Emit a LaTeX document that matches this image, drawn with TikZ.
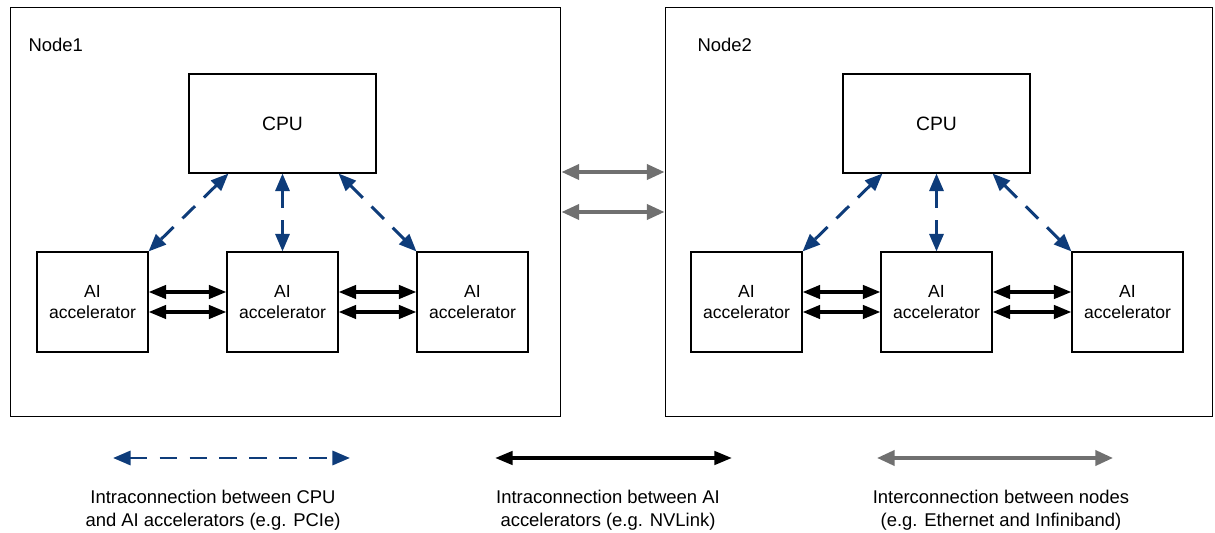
\documentclass[tikz,border=0pt]{standalone}
\usepackage{fontspec}
\setmainfont{Liberation Sans}
\usetikzlibrary{arrows.meta}
\definecolor{pciblue}{RGB}{14,60,122}
\definecolor{netgray}{RGB}{112,112,112}

\begin{document}
\begin{tikzpicture}
            [x=0.02cm, y=-0.02cm, line width=0.6pt,
             box/.style={shape=rectangle, draw=black, align=center, font=\fontsize{10}{12}\selectfont},
             pcie/.style={pciblue, line width=1.7pt, dash pattern=on 10pt off 7pt, {Triangle[length=10pt,width=8pt]}-{Triangle[length=10pt,width=8pt]}},
             nvlink/.style={black, line width=2.1pt, {Triangle[length=10pt,width=7.5pt]}-{Triangle[length=10pt,width=7.5pt]}},
             ether/.style={netgray, line width=2.1pt, {Triangle[length=10pt,width=8.5pt]}-{Triangle[length=10pt,width=8.5pt]}},
             legend/.style={align=center, font=\fontsize{10.5}{13}\selectfont}]
            \useasboundingbox (0,0) rectangle (1215,533);

            \node[box, minimum width=11.02cm, minimum height=8.2cm] (n1) at (285.5, 212) {};
            \node[box, minimum width=10.96cm, minimum height=8.2cm] (n2) at (939, 212) {};
            \node[anchor=west, inner sep=0pt, font=\fontsize{10.5}{12}\selectfont] (n1label) at (28, 45) {Node1};
            \node[anchor=west, inner sep=0pt, font=\fontsize{10.5}{12}\selectfont] (n2label) at (697, 45) {Node2};

            \node[box, minimum width=3.74cm, minimum height=1.98cm, font=\fontsize{11}{13}\selectfont] (cpu1) at (282.5, 123.5) {CPU};
            \node[box, minimum width=3.74cm, minimum height=1.98cm, font=\fontsize{11}{13}\selectfont] (cpu2) at (936.5, 123.5) {CPU};

            \node[box, minimum width=2.22cm, minimum height=2cm] (acc11) at (92.5, 302) {AI\\accelerator};
            \node[box, minimum width=2.22cm, minimum height=2cm] (acc12) at (282.5, 302) {AI\\accelerator};
            \node[box, minimum width=2.22cm, minimum height=2cm] (acc13) at (472.5, 302) {AI\\accelerator};
            \node[box, minimum width=2.22cm, minimum height=2cm] (acc21) at (746.5, 302) {AI\\accelerator};
            \node[box, minimum width=2.22cm, minimum height=2cm] (acc22) at (936.5, 302) {AI\\accelerator};
            \node[box, minimum width=2.22cm, minimum height=2cm] (acc23) at (1127.5, 302) {AI\\accelerator};

            % cpu <-> accelerators
            \path [pcie] ([xshift=0.8cm]cpu1.south west) edge (acc11.north east);
            \path [pcie] (cpu1.south) edge (acc12.north);
            \path [pcie] ([xshift=-0.76cm]cpu1.south east) edge (acc13.north west);
            \path [pcie] ([xshift=0.8cm]cpu2.south west) edge (acc21.north east);
            \path [pcie] (cpu2.south) edge (acc22.north);
            \path [pcie] ([xshift=-0.76cm]cpu2.south east) edge (acc23.north west);

            % accelerator <-> accelerator
            \path [nvlink] ([yshift=0.2cm]acc11.east) edge ([yshift=0.2cm]acc12.west);
            \path [nvlink] ([yshift=-0.2cm]acc11.east) edge ([yshift=-0.2cm]acc12.west);
            \path [nvlink] ([yshift=0.2cm]acc12.east) edge ([yshift=0.2cm]acc13.west);
            \path [nvlink] ([yshift=-0.2cm]acc12.east) edge ([yshift=-0.2cm]acc13.west);
            \path [nvlink] ([yshift=0.2cm]acc21.east) edge ([yshift=0.2cm]acc22.west);
            \path [nvlink] ([yshift=-0.2cm]acc21.east) edge ([yshift=-0.2cm]acc22.west);
            \path [nvlink] ([yshift=0.2cm]acc22.east) edge ([yshift=0.2cm]acc23.west);
            \path [nvlink] ([yshift=-0.2cm]acc22.east) edge ([yshift=-0.2cm]acc23.west);

            % node <-> node
            \path [ether] ([yshift=0.8cm]n1.east) edge ([yshift=0.8cm]n2.west);
            \path [ether] (n1.east) edge (n2.west);

            % legend
            \coordinate (lg1a) at (113, 458);
            \coordinate (lg1b) at (350, 458);
            \coordinate (lg2a) at (495, 458);
            \coordinate (lg2b) at (732, 458);
            \coordinate (lg3a) at (877, 458);
            \coordinate (lg3b) at (1113, 458);
            \path [pcie] (lg1a) edge (lg1b);
            \path [nvlink] (lg2a) edge (lg2b);
            \path [ether] (lg3a) edge (lg3b);
            \node[legend] (lg1text) at (213, 510) {Intraconnection between CPU\\and AI accelerators (e.g. PCIe)};
            \node[legend] (lg2text) at (608, 510) {Intraconnection between AI\\accelerators (e.g. NVLink)};
            \node[legend] (lg3text) at (1001, 510) {Interconnection between nodes\\(e.g. Ethernet and Infiniband)};
        \end{tikzpicture}
\end{document}
